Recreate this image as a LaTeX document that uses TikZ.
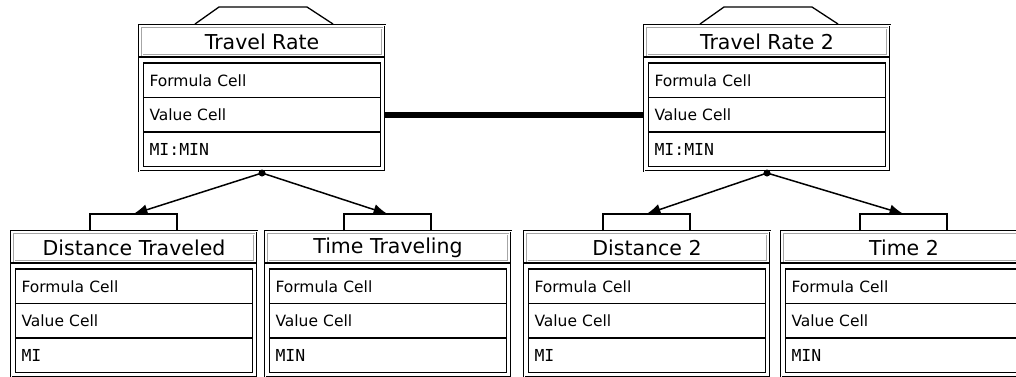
\documentclass[tikz,border=0pt]{standalone}
\usepackage{fontspec}
\setmainfont{DejaVu Sans}
\setmonofont{DejaVu Sans Mono}
\usetikzlibrary{positioning,arrows.meta}

\begin{document}
\begin{tikzpicture}[x=1pt,y=-1pt,
    boxframe/.style={draw,double,line width=0.7pt,double distance=1pt,outer sep=0pt,
      minimum width=246pt,minimum height=146pt,anchor=north west},
    boxtitle/.style={draw=gray!70,double,line width=0.7pt,double distance=1pt,inner sep=0pt,
      minimum width=240pt,minimum height=27pt,font=\fontsize{20.5}{24}\selectfont},
    boxcell/.style={draw,line width=1.2pt,outer sep=0pt,text width=225pt,inner xsep=6pt,
      inner ysep=0pt,minimum height=34.5pt,align=left,font=\fontsize{15.5}{18}\selectfont},
    boxunit/.style={boxcell,font=\fontsize{16.5}{18}\selectfont\ttfamily},
    hat/.style={line width=1.3pt},
    link/.style={line width=1.5pt,-{Latex[length=14pt,width=11pt]}}]
        \clip (0,0) rectangle (1016,376);

        % the six cell groups
        \foreach \nm/\x/\y/\lbl/\unt in {rate/139/25/Travel Rate/MI:MIN,
            rate2/644/25/Travel Rate 2/MI:MIN,
            dist/11/231/Distance Traveled/MI, time/265/231/Time Traveling/MIN,
            dist2/524/231/Distance 2/MI, time2/781/231/Time 2/MIN} {
          \node[boxframe] (\nm-frame) at (\x,\y) {};
          \node[boxtitle] (\nm-title) at (\x+123,\y+16.5) {\lbl};
          \draw[line width=1.2pt] (\x,\y+32) -- (\x+246,\y+32);
          \node[boxcell,anchor=north west] (\nm-formula) at (\x+4.5,\y+38) {Formula Cell};
          \node[boxcell,below=0pt of \nm-formula] (\nm-value) {Value Cell};
          \node[boxunit,below=0pt of \nm-value] (\nm-unit) {\unt};
        }

        \foreach \nm/\x in {rate/139,rate2/644} {
          \draw[hat] (\x+56,24) -- (\x+80,7) -- (\x+168,7) -- (\x+194,24);
          \coordinate (\nm-dot) at (\x+123,173);
          \fill (\nm-dot) circle (3.5pt);
        }
        \foreach \nm/\x in {dist/11,time/265,dist2/524,time2/781} {
          \draw[hat] (\x+79,231) -- (\x+79,214) -- (\x+166,214) -- (\x+166,231);
          \coordinate (\nm-hat) at (\x+122.5,214);
        }

        \draw[link] (rate-dot) -- (dist-hat);
        \draw[link] (rate-dot) -- (time-hat);
        \draw[link] (rate2-dot) -- (dist2-hat);
        \draw[link] (rate2-dot) -- (time2-hat);
        \draw[line width=5.5pt] (rate-frame.east |- rate-value.center) -- (rate2-frame.west |- rate2-value.center);
      \end{tikzpicture}
\end{document}
